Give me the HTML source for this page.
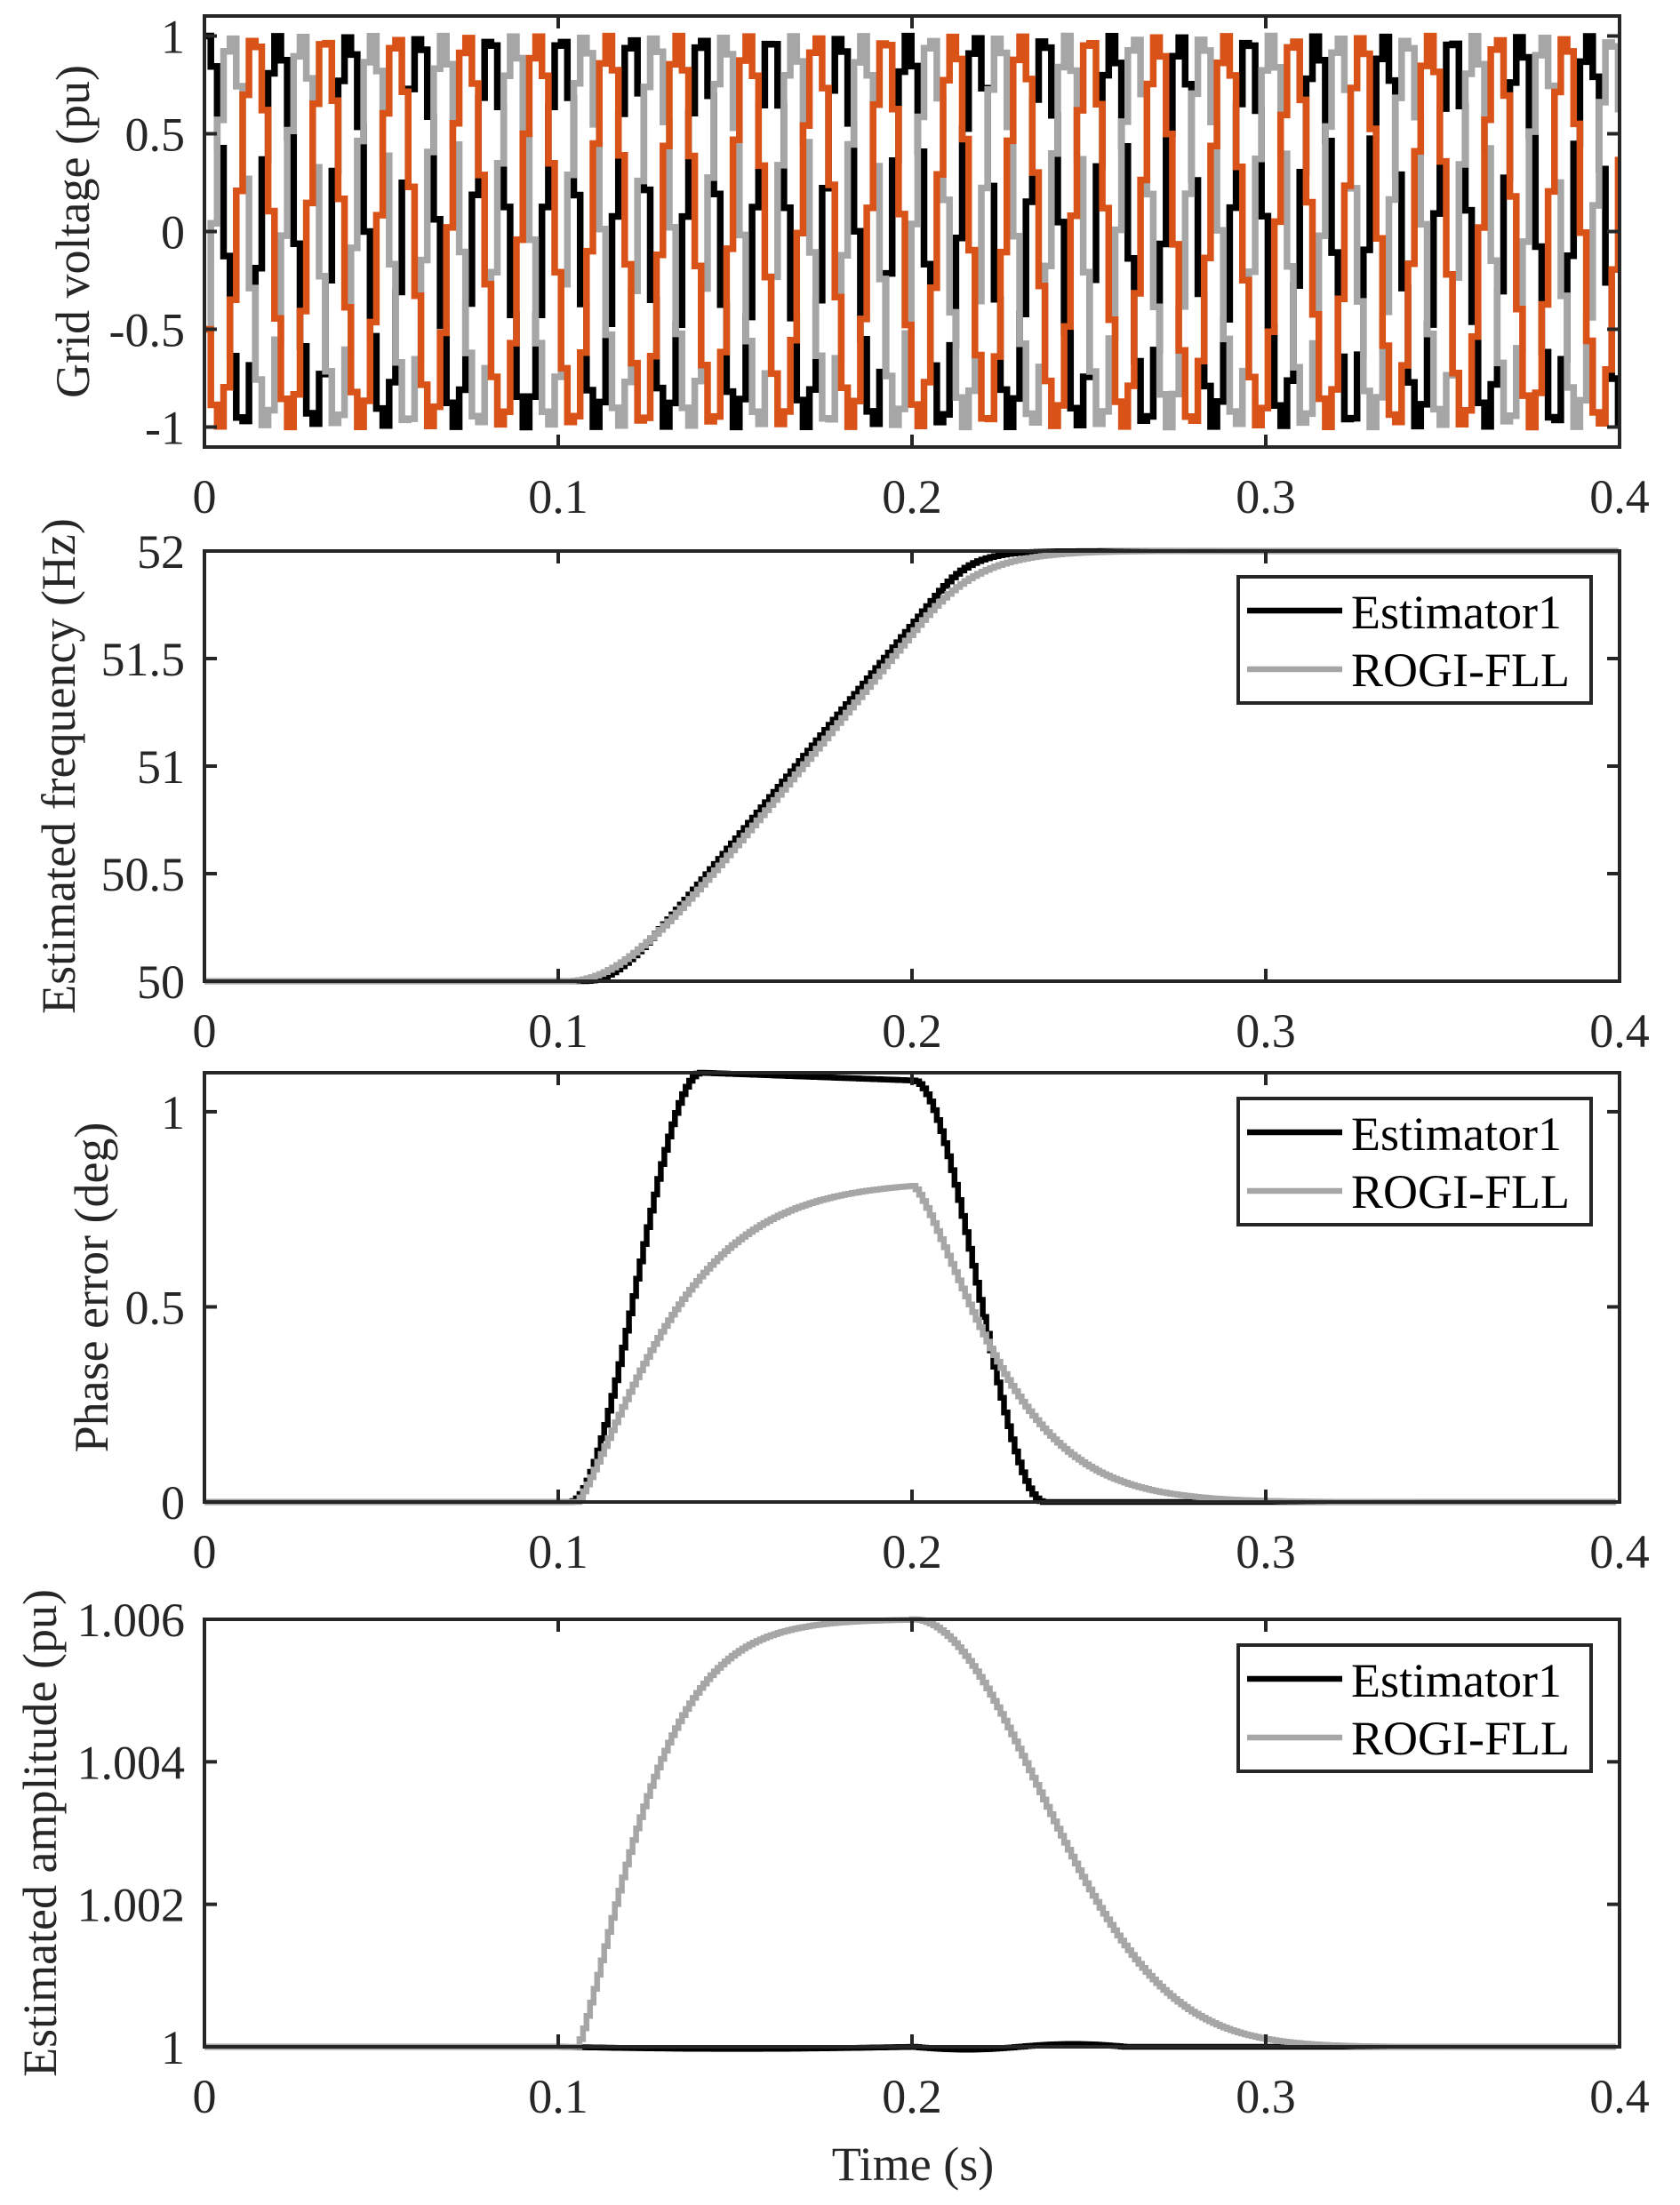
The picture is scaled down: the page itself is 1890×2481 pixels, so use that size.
<!DOCTYPE html>
<html><head><meta charset="utf-8"><style>
html,body{margin:0;padding:0;background:#fff;}
svg text{font-family:"Liberation Serif","Times New Roman",serif;fill:#262626;}
</style></head><body>
<svg id="s" xmlns="http://www.w3.org/2000/svg" width="1890" height="2476" viewBox="0 0 1890 2476"></svg>
<script>
var S=document.getElementById('s');var out='';
var X0=230,X1=1822;
function xp(t){return X0+(X1-X0)*t/0.4;}
var P=[
 {top:18,bot:503,y0:-1.1023,y1:1.1023,ticks:[-1,-0.5,0,0.5,1],lab:['-1','-0.5','0','0.5','1'],yl:'Grid voltage (pu)',ylx:82},
 {top:620,bot:1104,y0:50,y1:52,ticks:[50,50.5,51,51.5,52],lab:['50','50.5','51','51.5','52'],yl:'Estimated frequency (Hz)',ylx:66,leg:true},
 {top:1207,bot:1690,y0:0,y1:1.1,ticks:[0,0.5,1],lab:['0','0.5','1'],yl:'Phase error (deg)',ylx:103,leg:true},
 {top:1822,bot:2303,y0:1,y1:1.006,ticks:[1,1.002,1.004,1.006],lab:['1','1.002','1.004','1.006'],yl:'Estimated amplitude (pu)',ylx:45,leg:true}
];
function yp(p,v){return p.bot-(v-p.y0)/(p.y1-p.y0)*(p.bot-p.top);}
function stairs(p,pts,col,w){var d='';for(var i=0;i<pts.length;i++){var x=xp(pts[i][0]).toFixed(1),y=yp(p,pts[i][1]).toFixed(1);
 d+=(i?'H'+x+'V'+y:'M'+x+' '+y);} return '<path d="'+d+'" fill="none" stroke="'+col+'" stroke-width="'+w+'"/>';}
function ftrue(t){if(t<0.1)return 50;if(t<0.2)return 50+20*(t-0.1);return 52;}
var dt=0.0001,N=4000,th=0,wave=[],fb=[],fg=[];
var b1=50,b2=50,g1=50,g2=50,tb=0.0055,tg=0.0095,delay=0.006;
for(var i=0;i<=N;i++){var t=i*dt;
 var fin=ftrue(Math.max(0,t-delay));
 b1+=(fin-b1)*dt/tb;b2+=(b1-b2)*dt/tb;
 var fg_in=ftrue(t);g1+=(fg_in-g1)*dt/tg;g2+=(g1-g2)*dt/tg;
 fb.push([t,b2]);fg.push([t,g2]);wave.push(th);th+=2*Math.PI*ftrue(t)*dt;}
var p=P[0];
out+='<clipPath id="c0"><rect x="'+X0+'" y="'+p.top+'" width="'+(X1-X0)+'" height="'+(p.bot-p.top)+'"/></clipPath>';
var cols=['#000000','#A6A6A6','#D95319'],sh=[0,-2*Math.PI/3,2*Math.PI/3];
out+='<g clip-path="url(#c0)">';
for(var k=0;k<3;k++){var pts=[];for(var i=0;i<=N;i+=18){pts.push([i*dt,Math.cos(wave[i]+sh[k])]);}
 out+=stairs(p,pts,cols[k],7.5);}
out+='</g>';
p=P[1];var pb=[],pg=[];
for(var i=0;i<=N;i+=12){pb.push([fb[i][0],fb[i][1]]);pg.push([fg[i][0],fg[i][1]]);}
out+=stairs(p,pb,'#000',6.5)+stairs(p,pg,'#A6A6A6',6.5);
p=P[2];
function ss(x){x=Math.max(0,Math.min(1,x));return x*x*(3-2*x);}
function phb(t){if(t<0.103)return 0;if(t<0.14)return 1.1*ss((t-0.103)/0.037);
 if(t<0.2)return 1.1-0.02*(t-0.14)/0.06;if(t<0.237)return 1.08*(1-ss((t-0.2)/0.037));return 0;}
function phg(t){if(t<0.105)return 0;if(t<=0.2){var u=(t-0.105);return 0.81*(1-Math.exp(-Math.pow(u/0.03,1.25)))/(1-Math.exp(-Math.pow(0.095/0.03,1.25)));}
 return 0.81*Math.exp(-Math.pow((t-0.2)/0.028,1.35));}
pb=[];pg=[];for(var t=0;t<=0.4;t+=0.001){pb.push([t,phb(t)]);pg.push([t,phg(t)]);}
out+=stairs(p,pb,'#000',6.5)+stairs(p,pg,'#A6A6A6',6.5);
p=P[3];
function amg(t){if(t<0.105)return 1;if(t<=0.2){var u=t-0.105;return 1+0.006*(1-Math.exp(-Math.pow(u/0.022,1.3)));}
 return 1+0.006*Math.exp(-Math.pow((t-0.2)/0.05,2));}
function amb(t){if(t<0.1)return 1;if(t<0.2)return 1-0.00003*Math.sin((t-0.1)/0.1*Math.PI);if(t<0.26)return 1-0.00004*Math.sin((t-0.2)/0.06*2*Math.PI);return 1;}
pb=[];pg=[];for(var t=0;t<=0.4;t+=0.001){pb.push([t,amb(t)]);pg.push([t,amg(t)]);}
out+=stairs(p,pb,'#000',6.5)+stairs(p,pg,'#A6A6A6',6.5);
for(var n=0;n<4;n++){p=P[n];
 out+='<rect x="'+X0+'" y="'+p.top+'" width="'+(X1-X0)+'" height="'+(p.bot-p.top)+'" fill="none" stroke="#262626" stroke-width="4"/>';
 for(var j=0;j<=4;j++){var x=xp(j*0.1);
  out+='<line x1="'+x+'" y1="'+p.bot+'" x2="'+x+'" y2="'+(p.bot-14)+'" stroke="#262626" stroke-width="4"/>';
  out+='<line x1="'+x+'" y1="'+p.top+'" x2="'+x+'" y2="'+(p.top+14)+'" stroke="#262626" stroke-width="4"/>';
  out+='<text x="'+x+'" y="'+(p.bot+74)+'" font-size="54" text-anchor="middle">'+(j==0?'0':'0.'+j)+'</text>';}
 for(var j=0;j<p.ticks.length;j++){var y=yp(p,p.ticks[j]);
  out+='<line x1="'+X0+'" y1="'+y+'" x2="'+(X0+14)+'" y2="'+y+'" stroke="#262626" stroke-width="4"/>';
  out+='<line x1="'+X1+'" y1="'+y+'" x2="'+(X1-14)+'" y2="'+y+'" stroke="#262626" stroke-width="4"/>';
  out+='<text x="208" y="'+(y+19)+'" font-size="54" text-anchor="end">'+p.lab[j]+'</text>';}
 var cy=(p.top+p.bot)/2;
 out+='<text transform="translate('+(p.ylx+18)+','+cy+') rotate(-90)" font-size="54" text-anchor="middle">'+p.yl+'</text>';
 if(p.leg){var bt=p.top+29;
  out+='<rect x="1393" y="'+bt+'" width="397" height="142" fill="#fff" stroke="#262626" stroke-width="4"/>';
  out+='<line x1="1403" y1="'+(bt+38)+'" x2="1510" y2="'+(bt+38)+'" stroke="#000" stroke-width="6.5"/>';
  out+='<line x1="1403" y1="'+(bt+104)+'" x2="1510" y2="'+(bt+104)+'" stroke="#A6A6A6" stroke-width="6.5"/>';
  out+='<text x="1520" y="'+(bt+58)+'" font-size="54" style="fill:#000">Estimator1</text>';
  out+='<text x="1520" y="'+(bt+123)+'" font-size="54" style="fill:#000">ROGI-FLL</text>';}
}
out+='<text x="1027" y="2453" font-size="54" text-anchor="middle">Time (s)</text>';
S.innerHTML=out;
</script>
</body></html>
